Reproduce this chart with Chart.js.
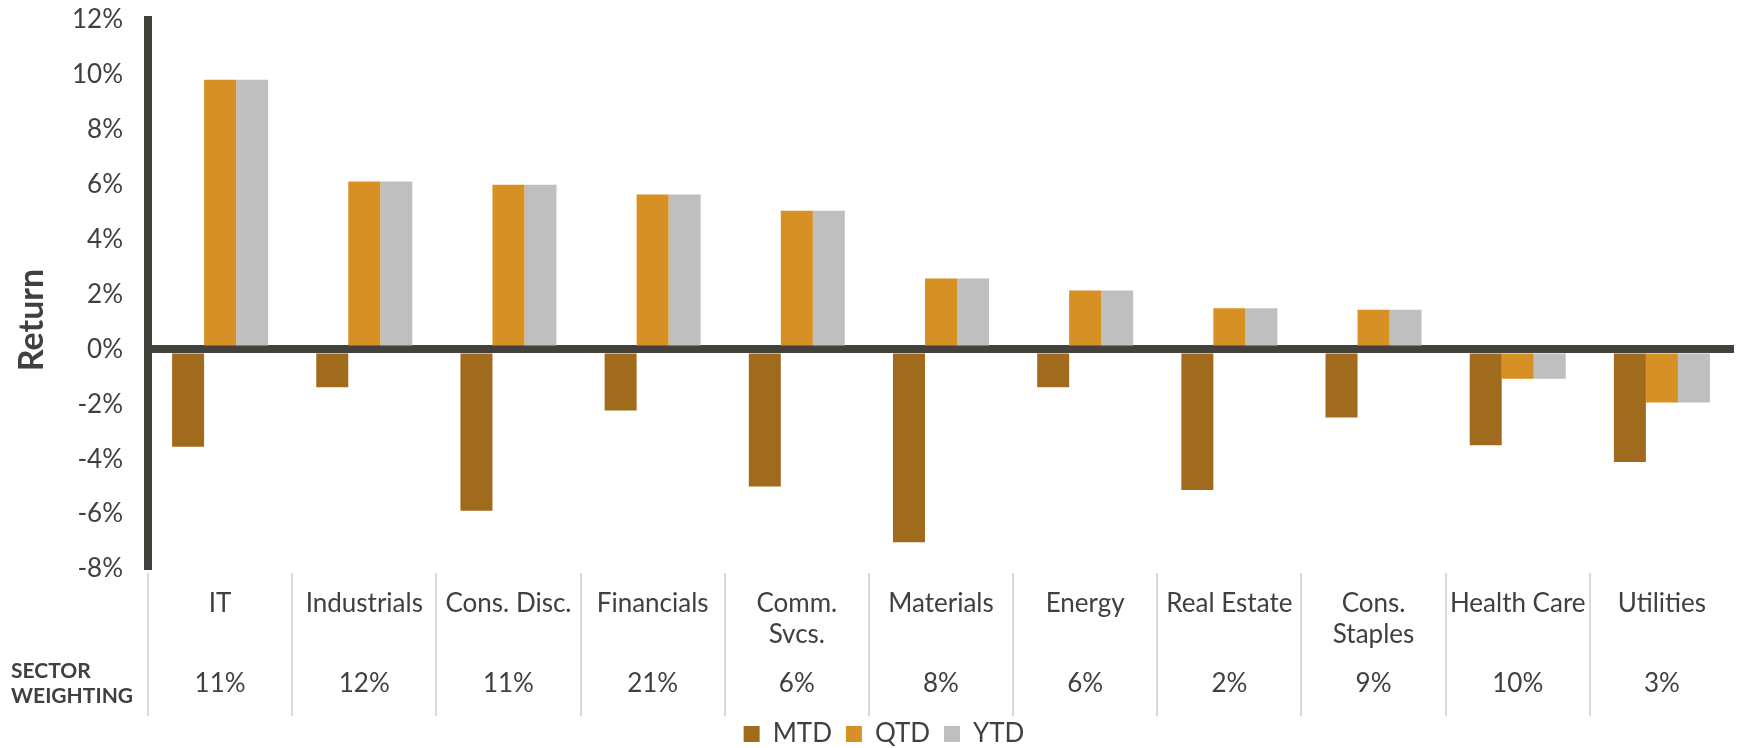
<!DOCTYPE html>
<html><head><meta charset="utf-8">
<script src="https://cdn.jsdelivr.net/npm/chart.js@4.4.1/dist/chart.umd.min.js"></script>
<style>html,body{margin:0;padding:0;background:#fff;} #wrap{width:1737px;height:748px;position:relative;}</style>
</head><body><div id="wrap"><canvas id="c" width="1737" height="748"></canvas></div>
<script>
// ---- data ----
const categories = ['IT', 'Industrials', 'Cons. Disc.', 'Financials', ['Comm.', 'Svcs.'], 'Materials', 'Energy', 'Real Estate', ['Cons.', 'Staples'], 'Health Care', 'Utilities'];
const mtdValues = [-3.55, -1.38, -5.88, -2.23, -4.99, -7.03, -1.38, -5.12, -2.48, -3.49, -4.10];
const qtdValues = [9.82, 6.12, 6.00, 5.64, 5.05, 2.58, 2.15, 1.50, 1.44, -1.07, -1.93];
const ytdValues = [9.82, 6.12, 6.00, 5.64, 5.05, 2.58, 2.15, 1.50, 1.44, -1.07, -1.93];
const sectorWeightings = ['11%', '12%', '11%', '21%', '6%', '8%', '6%', '2%', '9%', '10%', '3%'];
const seriesNames = ['MTD', 'QTD', 'YTD'];
const yMin = -8, yMax = 12, yStep = 2;
const yAxisTitle = 'Return';
const tableRowTitle = ['SECTOR', 'WEIGHTING'];

// ---- style ----
const FONT = 'Lato, "Open Sans", sans-serif';
const TEXT = '#404040';
const AXIS = '#43413C';
const COLORS = ['#A06B1C', '#D69024', '#BFBFBF'];

const tablePlugin = {
  id: 'tablePlugin',
  afterDraw(chart) {
    const ctx = chart.ctx;
    const xs = chart.scales.x;
    const step = xs.getPixelForValue(1) - xs.getPixelForValue(0);
    ctx.save();
    // y axis title
    ctx.fillStyle = TEXT;
    ctx.font = 'bold 34px ' + FONT;
    ctx.textAlign = 'center';
    ctx.textBaseline = 'middle';
    ctx.translate(32, 320);
    ctx.rotate(-Math.PI / 2);
    ctx.fillText(yAxisTitle, 0, 0);
    ctx.setTransform(1, 0, 0, 1, 0, 0);
    // row title
    ctx.font = 'bold 21px ' + FONT;
    ctx.textAlign = 'left';
    ctx.fillText(tableRowTitle[0], 11, 671);
    ctx.fillText(tableRowTitle[1], 11, 696);
    // separators + labels
    ctx.font = '26px ' + FONT;
    ctx.textAlign = 'center';
    ctx.textBaseline = 'alphabetic';
    categories.forEach((cat, i) => {
      const xc = xs.getPixelForValue(i);
      const xl = Math.round(xc - step / 2);
      ctx.strokeStyle = '#D9D9D9';
      ctx.lineWidth = 2;
      ctx.beginPath();
      ctx.moveTo(xl, 573);
      ctx.lineTo(xl, 716);
      ctx.stroke();
      const lines = Array.isArray(cat) ? cat : [cat];
      lines.forEach((ln, k) => ctx.fillText(ln, xc, 612 + k * 31));
      ctx.fillText(sectorWeightings[i], xc, 692);
    });
    ctx.restore();
  }
};

new Chart(document.getElementById('c'), {
  type: 'bar',
  data: {
    labels: categories,
    datasets: [
      { label: seriesNames[0], data: mtdValues, backgroundColor: COLORS[0] },
      { label: seriesNames[1], data: qtdValues, backgroundColor: COLORS[1] },
      { label: seriesNames[2], data: ytdValues, backgroundColor: COLORS[2] }
    ]
  },
  options: {
    responsive: false,
    animation: false,
    events: [],
    categoryPercentage: 0.666,
    barPercentage: 1.0,
    layout: { padding: { left: 34, right: 3, top: 20, bottom: 0 } },
    plugins: {
      legend: {
        position: 'bottom',
        maxHeight: 179,
        title: { display: true, text: '', font: { size: 10, lineHeight: 1 }, padding: { top: 128, bottom: 0 } },
        labels: { boxWidth: 16, boxHeight: 16, padding: 14, color: TEXT, font: { family: FONT, size: 26 } }
      },
      tooltip: { enabled: false }
    },
    scales: {
      x: { display: false, offset: true },
      y: {
        min: yMin, max: yMax,
        z: 1,
        afterFit: (s) => { s.width = 114; s.paddingTop = 0; s.paddingBottom = 0; },
        ticks: { stepSize: yStep, padding: 25, color: TEXT, font: { family: FONT, size: 26 }, callback: (v) => v + '%' },
        grid: {
          drawTicks: false,
          color: (c) => (c.tick && c.tick.value === 0) ? AXIS : 'rgba(0,0,0,0)',
          lineWidth: (c) => (c.tick && c.tick.value === 0) ? 8 : 1
        },
        border: { display: true, width: 8, color: AXIS }
      }
    }
  },
  plugins: [tablePlugin]
});
</script></body></html>
